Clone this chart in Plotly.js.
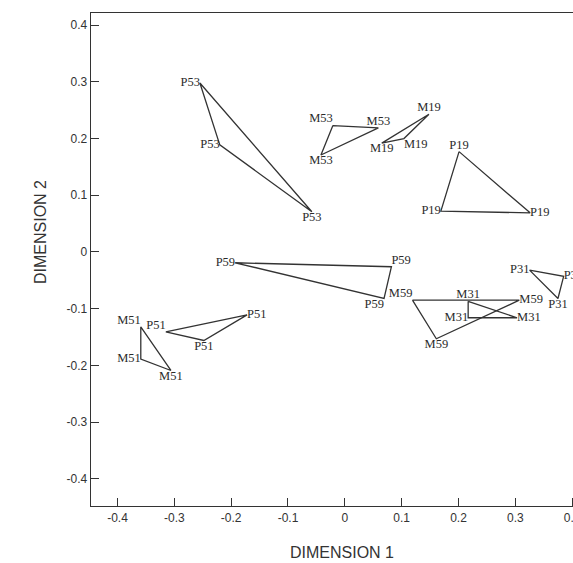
<!DOCTYPE html>
<html>
<head>
<meta charset="utf-8">
<script src="https://cdn.plot.ly/plotly-3.0.1.min.js"></script>
<style>
html,body{margin:0;padding:0;overflow:hidden;background:#fff;}
#chart{width:640px;height:563px;}
</style>
</head>
<body>
<div id="chart"></div>
<script>
// Group names (each group = one triangle of three labelled points)
const groups = ['P53','M53','M19','P19','P59','M59','M31','P31','P51','M51'];

// Dimension 1 coordinates of the three points of each group
const dim1P53 = [-0.255, -0.220, -0.058];
const dim1M53 = [-0.021, 0.059, -0.042];
const dim1M19 = [0.148, 0.104, 0.065];
const dim1P19 = [0.201, 0.169, 0.326];
const dim1P59 = [-0.193, 0.082, 0.069];
const dim1M59 = [0.119, 0.307, 0.161];
const dim1M31 = [0.217, 0.217, 0.303];
const dim1P31 = [0.325, 0.385, 0.375];
const dim1P51 = [-0.315, -0.172, -0.248];
const dim1M51 = [-0.359, -0.359, -0.306];

// Dimension 2 coordinates of the three points of each group
const dim2P53 = [0.298, 0.189, 0.071];
const dim2M53 = [0.223, 0.219, 0.171];
const dim2M19 = [0.243, 0.200, 0.192];
const dim2P19 = [0.177, 0.072, 0.069];
const dim2P59 = [-0.019, -0.026, -0.082];
const dim2M59 = [-0.085, -0.085, -0.153];
const dim2M31 = [-0.087, -0.116, -0.116];
const dim2P31 = [-0.032, -0.043, -0.082];
const dim2P51 = [-0.141, -0.111, -0.156];
const dim2M51 = [-0.132, -0.189, -0.209];

// Tick values / labels
const xTicks = [-0.4, -0.3, -0.2, -0.1, 0, 0.1, 0.2, 0.3, 0.4];
const xTickText = ['-0.4', '-0.3', '-0.2', '-0.1', '0', '0.1', '0.2', '0.3', '0.4'];
const yTicks = [-0.4, -0.3, -0.2, -0.1, 0, 0.1, 0.2, 0.3, 0.4];
const yTickText = ['-0.4', '-0.3', '-0.2', '-0.1', '0', '0.1', '0.2', '0.3', '0.4'];

const dim1 = {P53:dim1P53, M53:dim1M53, M19:dim1M19, P19:dim1P19, P59:dim1P59,
              M59:dim1M59, M31:dim1M31, P31:dim1P31, P51:dim1P51, M51:dim1M51};
const dim2 = {P53:dim2P53, M53:dim2M53, M19:dim2M19, P19:dim2P19, P59:dim2P59,
              M59:dim2M59, M31:dim2M31, P31:dim2P31, P51:dim2P51, M51:dim2M51};

// label placement (styling only)
const labelPos = {
  P53:['middle left','middle left','bottom center'],
  M53:['top left','top center','bottom center'],
  M19:['top center','bottom right','bottom center'],
  P19:['top center','middle left','middle right'],
  P59:['middle left','top right','bottom left'],
  M59:['top left','middle right','bottom center'],
  M31:['top center','middle left','middle right'],
  P31:['middle left','middle right','bottom center'],
  P51:['top left','middle right','bottom center'],
  M51:['top left','middle left','bottom center']
};

const ink = '#333333';
const traces = groups.map(g => {
  const xs = dim1[g], ys = dim2[g];
  return {
    type: 'scatter',
    mode: 'lines+text',
    x: xs.concat([xs[0]]),
    y: ys.concat([ys[0]]),
    text: [g, g, g, ''],
    textposition: labelPos[g].concat(['middle center']),
    textfont: {family: '"Liberation Serif", "Times New Roman", serif', size: 12.5, color: '#2b2b2b'},
    line: {color: ink, width: 1.3},
    hoverinfo: 'skip',
    showlegend: false,
    cliponaxis: false
  };
});

const axisFont = {family: '"Liberation Sans Narrow", "Arial Narrow", "Liberation Sans", Arial, sans-serif', size: 12, color: ink};

const layout = {
  width: 640,
  height: 563,
  margin: {l: 91, r: 11, t: 13, b: 57},
  paper_bgcolor: '#ffffff',
  plot_bgcolor: '#ffffff',
  showlegend: false,
  xaxis: {
    range: [-0.4466, 0.5],
    tickvals: xTicks,
    ticktext: xTickText,
    ticks: 'inside',
    ticklen: 8,
    tickwidth: 1,
    tickcolor: ink,
    showline: true,
    linecolor: ink,
    linewidth: 1.3,
    mirror: true,
    showgrid: false,
    zeroline: false,
    tickfont: axisFont
  },
  yaxis: {
    range: [-0.448, 0.4215],
    tickvals: yTicks,
    ticktext: yTickText,
    ticks: 'inside',
    ticklen: 8,
    tickwidth: 1,
    tickcolor: ink,
    showline: true,
    linecolor: ink,
    linewidth: 1.3,
    mirror: true,
    showgrid: false,
    zeroline: false,
    tickfont: axisFont
  },
  annotations: [
    {text: 'DIMENSION 1', xref: 'paper', yref: 'paper', x: (342 - 91) / 538, y: -(552 - 506) / 493,
     xanchor: 'center', yanchor: 'middle', showarrow: false,
     font: {family: '"Liberation Sans Narrow", "Arial Narrow", "Liberation Sans", Arial, sans-serif', size: 16, color: ink}},
    {text: 'DIMENSION 2', xref: 'paper', yref: 'paper', x: -(91 - 40) / 538, y: (506 - 232) / 493,
     xanchor: 'center', yanchor: 'middle', textangle: -90, showarrow: false,
     font: {family: '"Liberation Sans Narrow", "Arial Narrow", "Liberation Sans", Arial, sans-serif', size: 16, color: ink}}
  ]
};

Plotly.newPlot('chart', traces, layout, {displayModeBar: false, staticPlot: true});
</script>
</body>
</html>
